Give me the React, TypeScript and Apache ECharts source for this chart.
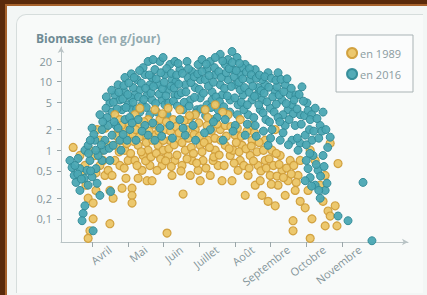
import React, { useEffect, useRef } from "react";
import * as echarts from "echarts";

const monthLabels = ["Avril", "Mai", "Juin", "Juillet", "Août", "Septembre", "Octobre", "Novembre"];
const monthTicks = [4, 5, 6, 7, 8, 9, 10, 11];
const monthLabelPos = [4.5, 5.5, 6.5, 7.5, 8.5, 9.5, 10.5, 11.5];
const yTickValues = [0.1, 0.2, 0.5, 1, 2, 5, 10, 20];
const yMinVal = 0.046;
const yMaxVal = 32;
const xMin = 3.13;
const xMax = 12.85;

// [mois (fractionnaire), biomasse g/jour]
const data2016: number[][] = [
  [3.38,0.71],[3.44,0.56],[3.50,0.43],[3.61,0.76],[3.55,0.34],[3.66,0.54],[3.75,0.12],[3.80,0.155],[3.72,0.094],[3.66,0.26],[3.78,0.39],[3.89,0.31],[3.80,1.0],[3.89,1.18],[3.94,0.71],[4.00,2.1],[4.08,1.4],[3.86,0.51],[4.00,0.41],[4.14,0.33],[4.22,0.22],[4.03,0.067],[4.11,0.54],[4.28,0.71],
  [4.22,3.3],[4.28,2.0],[4.36,1.4],[4.45,2.3],[4.50,4.9],[4.34,1.0],[4.42,3.0],[4.50,0.71],[4.17,0.84],[4.39,4.1],[4.56,1.66],[4.48,1.07],[4.52,0.25],
  [4.73,9.0],[4.64,6.4],[4.78,5.4],[4.92,7.1],[4.84,3.9],[5.01,4.6],[4.56,3.6],[4.67,2.3],[4.92,2.8],[5.06,2.0],[4.78,1.4],[4.59,1.18],[4.92,11.5],[4.73,2.1],[4.98,1.4],[4.81,1.0],
  [5.26,10.7],[5.57,19.7],[5.34,7.6],[5.48,12.7],[5.20,6.4],[5.40,4.6],[5.62,9.0],[5.12,3.9],[5.54,6.4],[5.29,2.8],[5.62,3.3],[5.15,8.2],[5.43,16],[5.09,5.8],[5.48,2.3],[5.23,1.4],[5.57,1.66],[5.34,3.6],
  [5.76,15],[5.90,19.7],[6.04,12.7],[6.18,17.8],[5.85,9.0],[6.13,7.6],[5.68,5.4],[5.96,5.4],[6.24,10.7],[6.32,6.4],[5.82,3.6],[6.10,3.3],[5.71,21],[5.99,22.5],[6.32,19.7],[5.90,2.1],[6.18,2.3],[5.76,1.4],[6.04,4.6],[5.68,11.5],
  [6.66,19.7],[6.46,15],[6.80,14],[6.97,17.8],[6.61,9.0],[6.89,8.2],[6.41,6.4],[6.75,5.4],[7.03,10.7],[6.55,3.9],[6.94,3.9],[6.41,18.4],[6.69,11.5],[6.46,2.8],[6.83,2.3],[6.61,1.66],[7.03,5.8],[6.35,10],
  [7.08,21],[7.31,19.7],[7.59,25],[7.87,35],[7.73,17.8],[7.45,12.7],[7.17,10.7],[7.81,10.7],[7.36,7.1],[7.64,6.4],[7.22,4.6],[7.87,5.4],[7.53,3.9],[7.73,2.8],[7.45,22.5],[7.81,21],[7.92,27.5],[7.22,15],[7.59,9.0],[7.31,2.0],[7.67,1.4],[7.36,5.4],
  [8.06,22.5],[8.29,17.8],[8.57,15],[8.15,12.7],[8.43,10.7],[8.01,9.0],[8.65,8.2],[8.23,6.4],[8.48,5.4],[8.09,4.6],[8.71,3.9],[8.37,3.3],[8.01,2.3],[8.20,16],[7.95,15],[8.57,2.3],[8.29,1.66],[8.15,7.6],[8.62,6.4],
  [8.93,13.5],[9.21,13.5],[9.41,9.0],[8.85,9.0],[9.13,7.1],[8.76,5.4],[9.32,5.4],[8.99,4.1],[9.49,3.9],[8.87,2.8],[9.21,3.0],[9.41,2.3],[9.04,2.0],[9.18,8.4],[9.55,6.4],[8.76,10.7],[9.27,1.4],[8.93,1.18],
  [9.88,8.4],[9.71,6.4],[10.02,4.9],[9.60,4.6],[9.83,3.3],[10.11,2.8],[9.69,2.3],[9.97,1.66],[9.83,1.27],[9.60,1.4],[9.77,1.0],[10.0,0.71],
  [10.25,4.1],[10.47,3.6],[10.39,2.3],[10.67,1.55],[10.47,0.84],[10.16,1.4],[10.33,0.51],[10.11,0.40],[10.25,0.31],[10.53,0.26],[9.97,0.36],[10.39,0.20],[10.05,0.54],[10.19,0.84],
  [10.89,0.11],[11.17,0.094],[11.59,0.34],[11.84,0.048],
  [5.05,3.0],[5.15,5.0],[5.25,4.0],[5.30,6.0],[5.38,9.5],[5.45,5.5],[5.50,8.0],[5.52,4.2],[5.60,12.5],[5.65,6.8],[5.72,8.5],[5.78,4.8],[5.80,11],[5.88,6.6],[5.93,13.5],[5.97,7.9],[6.02,9.8],[6.07,6.2],[6.09,15.5],[6.15,4.9],[6.21,8.6],[6.22,13.2],[6.28,5.2],[6.30,8.1],[6.37,12.5],[6.39,4.4],[6.43,9.2],[6.50,6.9],[6.53,13.2],[6.58,5.0],[6.63,7.1],[6.70,15.5],[6.72,4.4],[6.77,9.7],[6.79,3.1],[6.86,11.8],[6.87,5.9],[6.91,3.5],[6.96,13.0],[7.00,7.7],
  [7.05,4.0],[7.08,14.0],[7.12,6.8],[7.18,3.2],[7.20,18.0],[7.26,8.6],[7.28,12.3],[7.33,4.2],[7.40,9.8],[7.43,16.0],[7.47,6.0],[7.50,3.0],[7.55,14.0],[7.57,5.1],[7.62,11.5],[7.66,20],[7.69,4.3],[7.71,8.0],[7.76,13.5],[7.79,6.2],[7.84,15.5],[7.86,3.6],[7.90,8.5],[7.93,19.0],[7.98,11.8],[8.00,5.8],[8.04,14.5],[8.07,3.3],[8.11,9.8],[8.13,18.5],[8.18,5.0],[8.22,11.0],[8.25,3.9],[8.27,8.2],[8.32,13.8],[8.35,4.6],[8.40,7.0],[8.41,15.5],[8.46,12.6],[8.50,8.6],
  [8.53,3.0],[8.55,6.1],[8.60,11.2],[8.67,4.6],[8.69,12.5],[8.73,7.4],[8.79,3.5],[8.82,6.8],[8.84,11.8],[8.90,5.1],[8.95,8.3],[8.97,2.6],[9.02,11.2],[9.06,6.0],[9.10,3.6],[9.15,10.5],[9.16,4.7],[9.24,6.4],[9.26,2.6],[9.29,10.8],[9.35,3.3],[9.37,7.1],[9.44,4.8],[9.46,11],[9.52,2.8],[9.58,8.0],[9.63,3.4],[9.66,5.4],[9.74,4.0],[9.80,6.5],[9.86,2.4],[9.92,5.2],[9.95,3.2],[10.05,3.8],[10.09,2.0],[10.15,3.3],[10.21,1.9],[10.30,2.9],[10.35,1.5],[10.44,1.9],[10.55,2.0],[10.60,1.1],
  [4.40,6.0],[4.55,7.5],[4.60,5.0],[4.70,4.0],[4.75,7.0],[4.86,5.6],[4.89,8.8],[4.95,4.2],[5.00,6.5],[5.03,9.6],[5.10,13.0],[5.18,11.5],[5.33,14.5],[5.12,2.5],[4.87,1.7],[4.62,2.6],[4.30,2.6],[4.26,1.2],[4.10,1.0],[4.05,1.7],[3.95,1.4],[3.90,0.9],[3.60,0.45],[3.52,0.6],[3.70,0.38],[3.96,0.5],
  [5.40,1.9],[5.70,2.5],[5.95,1.6],[6.25,1.5],[6.55,2.1],[6.90,1.4],[7.15,1.8],[7.40,2.6],[7.95,1.9],[8.35,2.4],[8.60,1.6],[8.80,1.9],[9.00,1.5],[9.35,1.8],[9.50,1.2],[9.75,1.5],[10.0,1.2],[10.10,0.9],[10.28,0.62],[10.40,0.42],[10.50,0.58],[10.58,0.33],[10.15,0.3],[10.35,0.26],
];

const data1989: number[][] = [
  [3.47,1.1],[3.89,0.2],[4.03,0.17],[4.03,0.1],[3.94,0.067],[3.89,0.052],[3.80,0.6],[3.66,0.84],[3.72,0.43],[3.83,0.31],[3.94,1.0],
  [4.08,0.84],[4.22,0.6],[4.36,0.43],[4.11,0.26],[4.45,1.18],[4.50,0.26],[4.22,1.4],[4.31,0.71],[4.50,0.085],[4.14,2.0],[4.36,2.1],[4.45,0.51],[4.11,0.47],[4.28,1.0],
  [4.59,0.2],[4.64,3.3],[4.73,2.0],[4.84,1.4],[4.92,1.0],[4.64,0.71],[4.78,0.6],[5.01,1.66],[4.56,0.43],[4.95,0.39],[4.84,0.28],[4.78,2.8],[5.01,0.71],[4.67,1.18],[4.89,2.0],
  [5.12,0.28],[5.12,0.22],[5.12,0.17],[5.20,3.3],[5.34,2.3],[5.48,1.66],[5.29,1.18],[5.57,1.0],[5.20,0.71],[5.40,0.51],[5.62,0.6],[5.29,0.39],[5.54,0.36],[5.43,0.84],[5.57,2.8],[5.15,1.66],[5.34,4.1],
  [5.68,0.36],[5.76,3.9],[5.90,2.8],[6.04,2.0],[6.18,1.4],[5.85,1.18],[6.13,0.84],[5.96,0.6],[6.24,0.43],[6.10,0.062],[5.76,1.66],[6.27,2.8],[5.99,1.0],[5.82,0.51],[6.32,0.71],[6.13,4.1],
  [6.55,0.23],[6.46,3.9],[6.69,2.8],[6.89,2.0],[6.41,1.4],[6.61,1.0],[6.80,0.71],[6.97,0.51],[6.52,0.6],[6.75,0.43],[7.03,1.18],[6.64,2.0],[7.03,0.36],[6.89,3.3],
  [7.17,3.9],[7.36,2.8],[7.59,2.0],[7.81,3.3],[7.25,1.4],[7.45,1.0],[7.73,1.18],[7.11,0.71],[7.53,0.6],[7.87,0.84],[7.31,0.43],[7.64,0.36],[7.92,0.36],[7.45,4.6],[7.73,2.3],[7.22,2.3],[7.39,0.71],
  [8.01,1.66],[8.20,1.18],[8.43,0.84],[8.65,0.6],[8.15,0.71],[8.37,0.43],[8.57,0.31],[8.29,0.22],[8.09,0.51],[8.48,1.4],[8.71,0.36],[8.76,0.22],[8.15,2.8],[8.43,2.3],[7.95,1.0],
  [8.85,0.71],[8.99,0.43],[9.21,0.31],[9.41,0.22],[8.93,0.18],[9.13,0.155],[9.32,0.51],[9.55,0.71],[9.04,1.0],[9.49,0.36],[8.85,1.4],[9.27,0.84],[9.13,2.0],
  [9.63,0.094],[9.63,0.067],[9.69,0.26],[9.83,0.18],[9.97,0.145],[9.77,0.43],[10.05,0.26],[10.11,0.052],[10.16,0.1],[10.47,0.18],[10.61,0.13],[10.81,0.155],[10.86,0.079],[10.67,0.11],[10.53,0.079],[10.39,0.31],[10.25,0.71],[10.53,0.43],[9.83,0.71],[10.11,1.0],[10.67,1.27],[10.89,0.64],
  [4.70,1.6],[4.76,0.95],[4.82,2.3],[4.90,0.55],[4.97,1.25],[5.05,2.4],[5.08,0.9],[5.16,1.35],[5.22,2.0],[5.26,0.6],[5.32,1.55],[5.38,0.95],[5.45,2.6],[5.50,0.7],[5.52,1.3],[5.60,1.9],[5.65,0.8],[5.70,1.4],[5.74,2.4],[5.80,0.9],[5.87,1.9],[5.92,0.75],[5.97,3.4],[6.00,1.4],[6.06,0.7],[6.08,2.6],[6.15,1.05],[6.20,1.9],[6.22,0.58],[6.30,1.2],[6.35,2.2],[6.38,0.85],[6.44,1.8],[6.49,0.5],[6.52,1.3],[6.58,2.7],[6.66,0.75],[6.70,1.5],[6.73,3.2],[6.78,1.1],
  [6.84,0.9],[6.86,1.7],[6.93,0.65],[6.99,2.5],[7.01,1.6],[7.08,0.95],[7.14,1.3],[7.19,0.55],[7.24,3.0],[7.29,1.1],[7.34,1.9],[7.41,0.8],[7.44,1.5],[7.50,2.4],[7.56,0.85],[7.61,1.4],[7.66,3.6],[7.70,0.6],[7.76,1.6],[7.84,1.05],[7.89,2.2],[7.98,0.65],[8.04,1.3],[8.07,2.1],[8.12,0.95],[8.18,1.6],[8.25,0.6],[8.31,1.05],[8.34,1.9],[8.40,0.55],[8.46,1.15],[8.52,0.7],[8.55,1.8],[8.62,0.95],[8.68,1.3],[8.73,0.5],[8.80,1.0],[8.88,0.55],[8.96,0.75],[9.02,0.32],[9.08,0.6],[9.16,0.9],[9.18,0.42],[9.24,0.62],[9.36,0.4],[9.45,0.55],[9.58,0.45],[9.65,0.6],[9.72,0.34],
];

const FONT = "'Open Sans', 'Noto Sans', sans-serif";
const toLog = (d: number[][]) => d.map(([m, v]) => [m, Math.log10(v)]);
// 2016 points in the mixed band are drawn over the 1989 points, the others under them
const mixedLimit = 3;

export default function App() {
  const ref = useRef<HTMLDivElement>(null);
  useEffect(() => {
    if (!ref.current) return;
    const chart = echarts.init(ref.current, undefined, { renderer: "svg" });
    const axisColor = "#b9c3c5";
    const labelColor = "#84959a";
    const tealStyle = { color: "#4aa7b3", borderColor: "#338b98", borderWidth: 1, opacity: 0.95 };
    chart.setOption({
      animation: false,
      backgroundColor: "transparent",
      textStyle: { fontFamily: FONT },
      title: {
        text: "{a|Biomasse} {b|(en g/jour)}",
        left: 36,
        top: 29,
        padding: 0,
        textStyle: {
          rich: {
            a: { fontFamily: FONT, fontSize: 12, fontWeight: "bold", color: "#6e8b94" },
            b: { fontFamily: FONT, fontSize: 12, color: "#93aab0" },
          },
        },
      },
      legend: {
        data: ["en 1989", "en 2016"],
        orient: "vertical",
        right: 14,
        top: 35,
        padding: [12, 12, 12, 10],
        itemGap: 9,
        itemWidth: 10,
        itemHeight: 10,
        icon: "circle",
        borderColor: "#a9b3b5",
        borderWidth: 1,
        backgroundColor: "#fbfcfc",
        textStyle: { fontFamily: FONT, fontSize: 11, color: "#8a9ba0", padding: [0, 0, 0, -2] },
      },
      grid: { left: 61, right: 19, top: 47, bottom: 53, outerBoundsMode: "none" },
      xAxis: {
        type: "value",
        min: xMin,
        max: xMax,
        splitLine: { show: false },
        axisLine: { onZero: false, lineStyle: { color: axisColor, width: 1 }, symbol: ["none", "arrow"], symbolSize: [5, 6] },
        axisTick: { customValues: monthTicks, length: 5, lineStyle: { color: "#9aa6a9" } },
        axisLabel: {
          customValues: monthLabelPos,
          rotate: 38,
          margin: 6,
          fontFamily: FONT,
          fontSize: 11,
          color: labelColor,
          formatter: (v: number) => monthLabels[Math.round(v - 4.5)] ?? "",
        },
      },
      yAxis: {
        type: "value",
        min: Math.log10(yMinVal),
        max: Math.log10(yMaxVal),
        splitLine: { show: false },
        axisLine: { show: true, onZero: false, lineStyle: { color: axisColor, width: 1 }, symbol: ["none", "arrow"], symbolSize: [5, 6] },
        axisTick: { show: true, customValues: yTickValues.map((v) => Math.log10(v)), length: 4, lineStyle: { color: "#9aa6a9" } },
        axisLabel: {
          customValues: yTickValues.map((v) => Math.log10(v)),
          margin: 9,
          fontFamily: FONT,
          fontSize: 11,
          color: labelColor,
          formatter: (v: number) => String(Math.round(Math.pow(10, v) * 10) / 10).replace(".", ","),
        },
      },
      series: [
        {
          name: "en 2016",
          type: "scatter",
          symbolSize: 8,
          data: toLog(data2016.filter((d) => d[1] > mixedLimit)),
          itemStyle: tealStyle,
        },
        {
          name: "en 1989",
          type: "scatter",
          symbolSize: 8,
          data: toLog(data1989),
          itemStyle: { color: "#ebc566", borderColor: "#d09e3a", borderWidth: 1.2, opacity: 0.95 },
        },
        {
          name: "en 2016",
          type: "scatter",
          symbolSize: 8,
          data: toLog(data2016.filter((d) => d[1] <= mixedLimit)),
          itemStyle: tealStyle,
        },
      ],
    });
    return () => chart.dispose();
  }, []);

  return (
    <div style={{ position: "fixed", left: 0, top: 0, width: 427, height: 295, background: "#f3f6f5", overflow: "hidden" }}>
      <div style={{ position: "absolute", left: 0, top: 0, width: 427, height: 4, background: "#5a2a0b" }} />
      <div style={{ position: "absolute", left: 0, top: 4, width: 427, height: 2, background: "#a6622c" }} />
      <div style={{ position: "absolute", left: 0, top: 0, width: 5, height: 295, background: "#5a2a0b" }} />
      <div style={{ position: "absolute", left: 5, top: 4, width: 2, height: 291, background: "#a6622c" }} />
      <div
        style={{
          position: "absolute",
          left: 16,
          top: 14,
          width: 406,
          height: 278,
          background: "#f8faf9",
          borderLeft: "1px solid #d6dddc",
          borderTop: "1px solid #d6dddc",
          borderTopLeftRadius: 10,
        }}
      />
      <div ref={ref} style={{ position: "absolute", left: 0, top: 0, width: 427, height: 295 }} />
    </div>
  );
}
